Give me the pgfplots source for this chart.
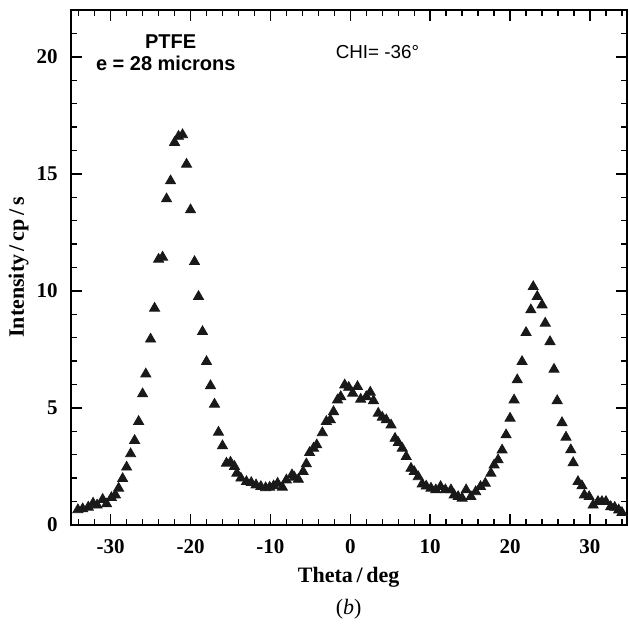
\documentclass[border=0pt]{standalone}
\usepackage{fontspec}
\setmainfont{Liberation Serif}
\newfontfamily\hv{Liberation Sans}
\usepackage{pgfplots}
\pgfplotsset{compat=1.18}
\begin{document}
\begin{tikzpicture}
\begin{axis}[scale only axis, width=278pt, height=257.5pt,
    xmin=-35, xmax=34.6, ymin=0, ymax=22,
    xtick={-30,-20,...,30}, minor xtick={-34,-32,...,34},
    ytick={0,5,...,20}, minor ytick={1,2,...,22},
    tick align=inside, major tick length=5.5pt, minor tick length=3pt,
    axis line style={line width=0.9pt}, every tick/.style={line width=0.7pt, black},
    tick label style={font=\fontsize{10.5}{12}\selectfont\bfseries},
    xticklabel style={yshift=-3.5pt}, yticklabel style={xshift=-3pt},
    /pgf/number format/assume math mode=true,
    xlabel={Theta\,/\,deg}, ylabel={Intensity\,/\,cp\,/\,s},
    label style={font=\fontsize{11}{13}\selectfont\bfseries},
    xlabel style={at={(axis description cs:0.5,-0.101)}, anchor=center},
    ylabel style={at={(axis description cs:-0.0935,0.5)}, anchor=center},
    clip=false]
\addplot[only marks, mark=triangle*, mark size=2.9pt, color=black!90] coordinates {
(-34.1,0.65)(-33.5,0.69)(-32.8,0.76)(-32.2,0.93)(-31.7,0.85)(-31.0,1.09)(-30.5,0.90)
(-29.9,1.17)(-29.4,1.28)(-29.0,1.57)(-28.5,1.98)(-28.0,2.47)(-27.5,3.04)(-27.0,3.61)
(-26.5,4.42)(-26.0,5.60)(-25.6,6.45)(-25.0,7.94)(-24.5,9.26)(-24.0,11.35)(-23.5,11.44)
(-23.0,13.93)(-22.5,14.70)(-22.0,16.34)(-21.5,16.60)(-21.0,16.67)(-20.5,15.41)(-20.0,13.46)
(-19.5,11.25)(-19.0,9.76)(-18.5,8.26)(-18.0,6.98)(-17.5,5.95)(-17.0,5.16)(-16.5,3.96)
(-16.0,3.38)(-15.5,2.64)(-15.0,2.68)(-14.5,2.50)(-14.2,2.21)(-13.7,2.00)(-13.0,1.85)
(-12.4,1.81)(-11.8,1.71)(-11.2,1.64)(-10.6,1.59)(-10.1,1.61)(-9.6,1.67)(-9.1,1.78)
(-8.5,1.61)(-8.0,1.92)(-7.3,2.14)(-7.0,2.04)(-6.5,1.95)(-5.9,2.28)(-5.5,2.61)(-5.1,3.09)
(-4.6,3.28)(-4.2,3.42)(-3.5,3.94)(-3.0,4.42)(-2.5,4.49)(-2.1,4.84)(-1.6,5.34)(-1.2,5.48)
(-0.7,5.98)(-0.2,5.88)(0.3,5.63)(0.9,5.91)(1.3,5.37)(2.0,5.48)(2.5,5.67)(2.9,5.31)
(3.5,4.77)(4.0,4.60)(4.5,4.49)(5.1,4.27)(5.6,3.70)(6.0,3.52)(6.5,3.28)(7.0,2.92)
(7.6,2.42)(8.0,2.28)(8.5,2.06)(9.0,1.75)(9.5,1.66)(10.1,1.57)(10.7,1.50)(11.3,1.64)
(11.9,1.50)(12.6,1.50)(13.0,1.28)(13.5,1.21)(14.0,1.14)(14.5,1.50)(15.1,1.21)(15.7,1.42)
(16.3,1.64)(16.9,1.78)(17.6,2.21)(18.0,2.56)(18.5,2.78)(19.0,3.20)(19.5,3.85)(20.0,4.56)
(20.5,5.34)(20.9,6.20)(21.5,6.98)(22.0,8.22)(22.6,9.19)(22.9,10.18)(23.4,9.76)(24.0,9.40)
(24.4,8.62)(25.0,7.83)(25.5,6.65)(25.9,5.31)(26.5,4.37)(27.0,3.75)(27.6,3.21)(27.9,2.66)
(28.5,1.85)(29.0,1.67)(29.3,1.28)(29.9,1.21)(30.4,0.85)(31.0,1.00)(31.5,1.00)(32.0,1.00)
(32.6,0.78)(33.1,0.75)(33.6,0.64)(34.0,0.53)};
\node[font=\hv\bfseries\fontsize{10}{12}\selectfont] at (axis cs:-22.5,20.64) {PTFE};
\node[font=\hv\bfseries\fontsize{10}{12}\selectfont] at (axis cs:-23.1,19.74) {e = 28 microns};
\node[font=\hv\fontsize{9.4}{11}\selectfont] at (axis cs:3.4,20.2) {CHI= -36°};
\node[font=\fontsize{11}{13}\selectfont] at (axis description cs:0.5,-0.163) {(\textit{b})};
\end{axis}
\pgfresetboundingbox
\path[use as bounding box] ([shift={(-35.35pt,-53.5pt)}]current axis.south west) rectangle ([shift={(1pt,5pt)}]current axis.north east);
\end{tikzpicture}
\end{document}
